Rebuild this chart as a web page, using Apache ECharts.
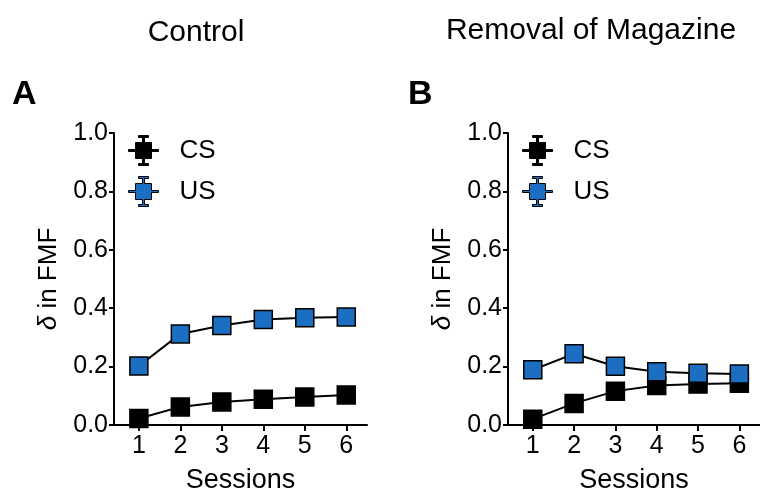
<!DOCTYPE html>
<html lang="en">
<head>
    <meta http-equiv="Content-Type" content="text/html; charset=utf-8"/>
    <title>delta in FMF</title>
    <script type="text/javascript" src="https://cdn.jsdelivr.net/npm/echarts@6/dist/echarts.min.js"></script>
</head>
<style>
    * {
        margin: 0;
        padding: 0;
    }
    html, body {
        width: 100%;
        height: 100%;
        background: #fff;
    }
    .main {
        width: 760px;
        height: 492px;
    }
</style>
<body>
<div id="main" class="main"></div>
</body>
<script type="text/javascript">
    // 数据
    var sessions = [1, 2, 3, 4, 5, 6];
    var yTicks = [0, 0.2, 0.4, 0.6, 0.8, 1.0];
    var controlCS = [0.022, 0.062, 0.079, 0.088, 0.096, 0.103];
    var controlUS = [0.202, 0.312, 0.341, 0.361, 0.367, 0.370];
    var removalCS = [0.020, 0.074, 0.116, 0.135, 0.140, 0.143];
    var removalUS = [0.189, 0.244, 0.201, 0.182, 0.177, 0.175];

    var FONT = '"Liberation Sans", Arial, sans-serif';
    var BLUE = '#1b6ec2';
    // 图例图标：方块 + 误差线
    var ICON = 'path://M10,0 L20,0 L20,2 L16,2 L16,7 L23,7 L23,14 L30,14 L30,16 L23,16 L23,23 L16,23 L16,28 L20,28 L20,30 L10,30 L10,28 L14,28 L14,23 L7,23 L7,16 L0,16 L0,14 L7,14 L7,7 L14,7 L14,2 L10,2 Z';

    function pairs(ys) {
        return sessions.map(function (s, i) { return [s, ys[i]]; });
    }

    function xAxisFor(idx) {
        return {
            type: 'value',
            gridIndex: idx,
            min: 0.4,
            max: 6.5,
            name: 'Sessions',
            nameLocation: 'middle',
            nameGap: 42,
            nameTextStyle: {color: '#000', fontSize: 27, fontFamily: FONT},
            axisLine: {show: true, lineStyle: {color: '#000', width: 2}},
            axisTick: {show: true, length: 6, lineStyle: {color: '#000', width: 2}, customValues: sessions},
            axisLabel: {color: '#000', fontSize: 25, fontFamily: FONT, margin: 9, customValues: sessions},
            splitLine: {show: false}
        };
    }

    function yAxisFor(idx) {
        return {
            type: 'value',
            gridIndex: idx,
            min: 0,
            max: 1,
            interval: 0.2,
            name: '{i|δ} in FMF',
            nameLocation: 'middle',
            nameGap: 52,
            nameTextStyle: {
                color: '#000', fontSize: 26, fontFamily: FONT,
                rich: {i: {fontStyle: 'italic', fontSize: 26, fontFamily: FONT, color: '#000'}}
            },
            axisLine: {show: true, lineStyle: {color: '#000', width: 2}},
            axisTick: {show: true, length: 5, lineStyle: {color: '#000', width: 2}},
            axisLabel: {
                color: '#000', fontSize: 25, fontFamily: FONT, margin: 6,
                formatter: function (v) { return v.toFixed(1); }
            },
            splitLine: {show: false}
        };
    }

    function seriesFor(name, idx, ys, color) {
        return {
            name: name,
            type: 'line',
            xAxisIndex: idx,
            yAxisIndex: idx,
            data: pairs(ys),
            symbol: 'rect',
            symbolSize: 18,
            showAllSymbol: true,
            lineStyle: {color: '#000', width: 2},
            itemStyle: {color: color, borderColor: '#000', borderWidth: 1.5},
            emphasis: {disabled: true},
            z: name === 'US' ? 3 : 2
        };
    }

    function legendFor(left) {
        return {
            left: left,
            top: 130,
            orient: 'vertical',
            itemWidth: 30,
            itemHeight: 30,
            itemGap: 10,
            icon: ICON,
            data: ['CS', 'US'],
            itemStyle: {borderColor: '#000', borderWidth: 1},
            textStyle: {color: '#000', fontSize: 26, fontFamily: FONT, padding: [0, 0, 0, 16]},
            selectedMode: false
        };
    }

    var option = {
        backgroundColor: '#fff',
        animation: false,
        title: [
            {text: 'Control', left: 191, top: 13, textAlign: 'center',
                textStyle: {color: '#000', fontSize: 30, fontWeight: 'normal', fontFamily: FONT}},
            {text: 'Removal of Magazine', left: 586, top: 11, textAlign: 'center',
                textStyle: {color: '#000', fontSize: 30, fontWeight: 'normal', fontFamily: FONT}},
            {text: 'A', left: 7, top: 73,
                textStyle: {color: '#000', fontSize: 34, fontWeight: 'bold', fontFamily: FONT}},
            {text: 'B', left: 403, top: 73,
                textStyle: {color: '#000', fontSize: 34, fontWeight: 'bold', fontFamily: FONT}}
        ],
        legend: [legendFor(123), legendFor(517)],
        grid: [
            {left: 114, top: 133, right: 393, bottom: 67, outerBoundsMode: 'none'},
            {left: 508, top: 133, right: 0, bottom: 67, outerBoundsMode: 'none'}
        ],
        xAxis: [xAxisFor(0), xAxisFor(1)],
        yAxis: [yAxisFor(0), yAxisFor(1)],
        series: [
            seriesFor('CS', 0, controlCS, '#000'),
            seriesFor('US', 0, controlUS, BLUE),
            seriesFor('CS', 1, removalCS, '#000'),
            seriesFor('US', 1, removalUS, BLUE)
        ]
    };

    var chart = echarts.init(document.getElementById('main'), null, {renderer: 'canvas'});
    chart.setOption(option);
</script>
</html>
